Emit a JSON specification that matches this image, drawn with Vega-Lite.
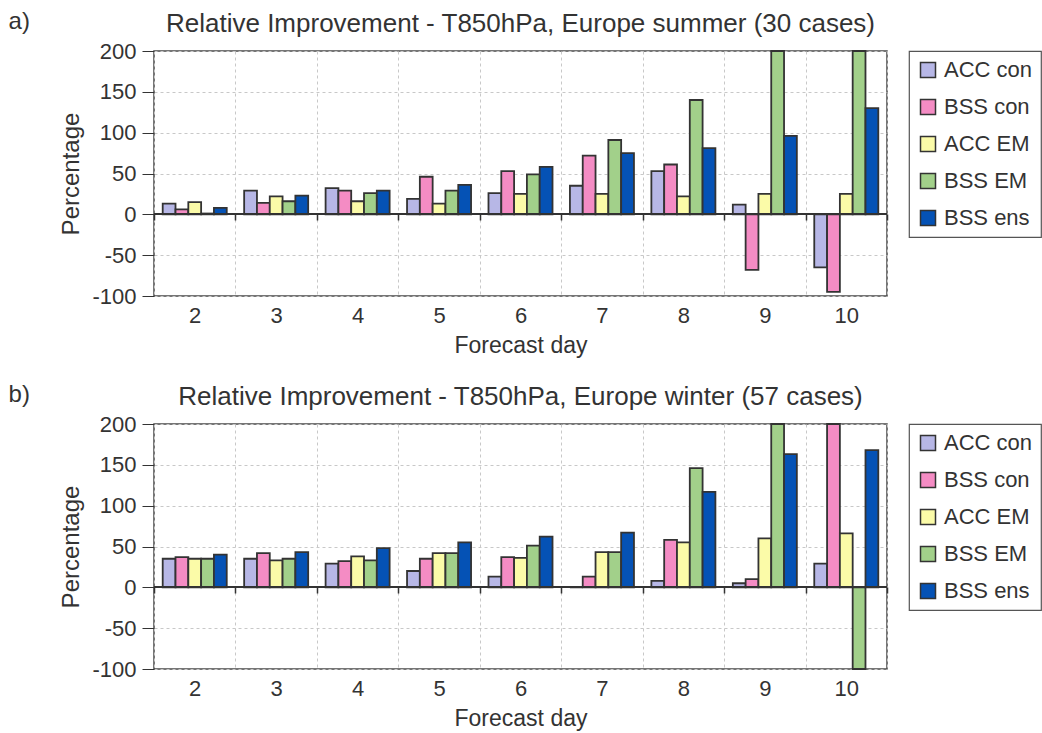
{
  "$schema": "https://vega.github.io/schema/vega-lite/v6.json",
  "background": "white",
  "padding": {"left": 8, "top": 10, "right": 2, "bottom": 0},
  "config": {
    "font": "Liberation Sans",
    "view": {"stroke": "#4a4a4a", "strokeWidth": 1.5},
    "axis": {
      "labelFontSize": 22, "labelColor": "#333", "titleFontSize": 24, "titleFontWeight": "normal", "titleColor": "#333",
      "gridColor": "#c8c8c8", "gridDash": [3, 3], "gridWidth": 1, "tickColor": "#333", "domainColor": "#333"
    },
    "legend": {
      "orient": "right", "offset": 20, "strokeColor": "#555", "strokeWidth": 1.2, "padding": 8,
      "symbolType": "square", "symbolSize": 225, "symbolStrokeColor": "#333", "symbolStrokeWidth": 1.5, "symbolOpacity": 1,
      "labelFontSize": 22, "labelColor": "#333", "rowPadding": 15, "labelOffset": 5
    },
    "title": {"fontWeight": "normal", "color": "#333"}
  },
  "datasets": {
    "summer": [
      {"day": 2, "series": "ACC con", "value": 13}, {"day": 2, "series": "BSS con", "value": 6}, {"day": 2, "series": "ACC EM", "value": 15}, {"day": 2, "series": "BSS EM", "value": 1}, {"day": 2, "series": "BSS ens", "value": 8},
      {"day": 3, "series": "ACC con", "value": 29}, {"day": 3, "series": "BSS con", "value": 14}, {"day": 3, "series": "ACC EM", "value": 22}, {"day": 3, "series": "BSS EM", "value": 16}, {"day": 3, "series": "BSS ens", "value": 23},
      {"day": 4, "series": "ACC con", "value": 32}, {"day": 4, "series": "BSS con", "value": 29}, {"day": 4, "series": "ACC EM", "value": 16}, {"day": 4, "series": "BSS EM", "value": 26}, {"day": 4, "series": "BSS ens", "value": 29},
      {"day": 5, "series": "ACC con", "value": 19}, {"day": 5, "series": "BSS con", "value": 46}, {"day": 5, "series": "ACC EM", "value": 13}, {"day": 5, "series": "BSS EM", "value": 29}, {"day": 5, "series": "BSS ens", "value": 36},
      {"day": 6, "series": "ACC con", "value": 26}, {"day": 6, "series": "BSS con", "value": 53}, {"day": 6, "series": "ACC EM", "value": 25}, {"day": 6, "series": "BSS EM", "value": 49}, {"day": 6, "series": "BSS ens", "value": 58},
      {"day": 7, "series": "ACC con", "value": 35}, {"day": 7, "series": "BSS con", "value": 72}, {"day": 7, "series": "ACC EM", "value": 25}, {"day": 7, "series": "BSS EM", "value": 91}, {"day": 7, "series": "BSS ens", "value": 75},
      {"day": 8, "series": "ACC con", "value": 53}, {"day": 8, "series": "BSS con", "value": 61}, {"day": 8, "series": "ACC EM", "value": 22}, {"day": 8, "series": "BSS EM", "value": 140}, {"day": 8, "series": "BSS ens", "value": 81},
      {"day": 9, "series": "ACC con", "value": 12}, {"day": 9, "series": "BSS con", "value": -68}, {"day": 9, "series": "ACC EM", "value": 25}, {"day": 9, "series": "BSS EM", "value": 200}, {"day": 9, "series": "BSS ens", "value": 96},
      {"day": 10, "series": "ACC con", "value": -65}, {"day": 10, "series": "BSS con", "value": -95}, {"day": 10, "series": "ACC EM", "value": 25}, {"day": 10, "series": "BSS EM", "value": 200}, {"day": 10, "series": "BSS ens", "value": 130}
    ],
    "winter": [
      {"day": 2, "series": "ACC con", "value": 35}, {"day": 2, "series": "BSS con", "value": 37}, {"day": 2, "series": "ACC EM", "value": 35}, {"day": 2, "series": "BSS EM", "value": 35}, {"day": 2, "series": "BSS ens", "value": 40},
      {"day": 3, "series": "ACC con", "value": 35}, {"day": 3, "series": "BSS con", "value": 42}, {"day": 3, "series": "ACC EM", "value": 33}, {"day": 3, "series": "BSS EM", "value": 35}, {"day": 3, "series": "BSS ens", "value": 43},
      {"day": 4, "series": "ACC con", "value": 29}, {"day": 4, "series": "BSS con", "value": 32}, {"day": 4, "series": "ACC EM", "value": 38}, {"day": 4, "series": "BSS EM", "value": 33}, {"day": 4, "series": "BSS ens", "value": 48},
      {"day": 5, "series": "ACC con", "value": 20}, {"day": 5, "series": "BSS con", "value": 35}, {"day": 5, "series": "ACC EM", "value": 42}, {"day": 5, "series": "BSS EM", "value": 42}, {"day": 5, "series": "BSS ens", "value": 55},
      {"day": 6, "series": "ACC con", "value": 13}, {"day": 6, "series": "BSS con", "value": 37}, {"day": 6, "series": "ACC EM", "value": 36}, {"day": 6, "series": "BSS EM", "value": 51}, {"day": 6, "series": "BSS ens", "value": 62},
      {"day": 7, "series": "ACC con", "value": 0}, {"day": 7, "series": "BSS con", "value": 13}, {"day": 7, "series": "ACC EM", "value": 43}, {"day": 7, "series": "BSS EM", "value": 43}, {"day": 7, "series": "BSS ens", "value": 67},
      {"day": 8, "series": "ACC con", "value": 8}, {"day": 8, "series": "BSS con", "value": 58}, {"day": 8, "series": "ACC EM", "value": 55}, {"day": 8, "series": "BSS EM", "value": 146}, {"day": 8, "series": "BSS ens", "value": 117},
      {"day": 9, "series": "ACC con", "value": 5}, {"day": 9, "series": "BSS con", "value": 10}, {"day": 9, "series": "ACC EM", "value": 60}, {"day": 9, "series": "BSS EM", "value": 200}, {"day": 9, "series": "BSS ens", "value": 163},
      {"day": 10, "series": "ACC con", "value": 29}, {"day": 10, "series": "BSS con", "value": 200}, {"day": 10, "series": "ACC EM", "value": 66}, {"day": 10, "series": "BSS EM", "value": -100}, {"day": 10, "series": "BSS ens", "value": 168}
    ]
  },
  "spacing": 25,
  "resolve": {"scale": {"color": "independent"}, "legend": {"color": "independent"}},
  "vconcat": [
    {
      "title": {"text": "a)", "orient": "left", "angle": 0, "anchor": "end", "baseline": "top", "align": "right", "fontSize": 24, "offset": 8},
      "vconcat": [
        {
          "width": 733, "height": 245,
          "title": {"text": "Relative Improvement - T850hPa, Europe summer (30 cases)", "frame": "group", "anchor": "middle", "fontSize": 26, "offset": 3},
          "data": {"name": "summer"},
          "layer": [
            {
              "mark": {"type": "bar", "stroke": "#333", "strokeWidth": 1.8},
              "encoding": {
                "x": {"field": "day", "type": "ordinal", "title": "Forecast day",
                      "scale": {"paddingInner": 0, "paddingOuter": 0},
                      "axis": {"labelAngle": 0, "grid": true, "tickBand": "extent", "ticks": false, "domain": false, "labelPadding": 9, "titlePadding": 8, "titleFontSize": 23}},
                "xOffset": {"field": "series", "sort": ["ACC con", "BSS con", "ACC EM", "BSS EM", "BSS ens"], "scale": {"paddingInner": 0, "paddingOuter": 0.68}},
                "y": {"field": "value", "type": "quantitative", "title": "Percentage",
                      "scale": {"domain": [-100, 200], "nice": false, "zero": false},
                      "axis": {"values": [-100, -50, 0, 50, 100, 150, 200], "labelExpr": "'' + datum.value", "tickSize": 12, "labelPadding": 6, "titlePadding": 8, "domain": false, "grid": true}},
                "color": {"field": "series", "type": "nominal", "sort": ["ACC con", "BSS con", "ACC EM", "BSS EM", "BSS ens"],
                          "scale": {"domain": ["ACC con", "BSS con", "ACC EM", "BSS EM", "BSS ens"], "range": ["#b7b7e6", "#f48cc4", "#fbfba8", "#a2d08a", "#0552b5"]},
                          "legend": {"title": null}}
              }
            },
            {"mark": {"type": "rule", "color": "#333", "strokeWidth": 1.5}, "encoding": {"y": {"datum": 0}}},
            {
              "mark": {"type": "tick", "opacity": 0},
              "encoding": {
                "x": {"field": "day", "type": "ordinal", "axis": {"orient": "bottom", "offset": -82, "labels": false, "title": null, "domain": false, "grid": false, "ticks": true, "tickBand": "extent", "tickSize": 6, "tickWidth": 1.5}},
                "y": {"datum": 0}
              }
            }
          ],
          "resolve": {"axis": {"x": "independent"}}
        }
      ]
    },
    {
      "title": {"text": "b)", "orient": "left", "angle": 0, "anchor": "end", "baseline": "top", "align": "right", "fontSize": 24, "offset": 8},
      "vconcat": [
        {
          "width": 733, "height": 245,
          "title": {"text": "Relative Improvement - T850hPa, Europe winter (57 cases)", "frame": "group", "anchor": "middle", "fontSize": 26, "offset": 3},
          "data": {"name": "winter"},
          "layer": [
            {
              "mark": {"type": "bar", "stroke": "#333", "strokeWidth": 1.8},
              "encoding": {
                "x": {"field": "day", "type": "ordinal", "title": "Forecast day",
                      "scale": {"paddingInner": 0, "paddingOuter": 0},
                      "axis": {"labelAngle": 0, "grid": true, "tickBand": "extent", "ticks": false, "domain": false, "labelPadding": 9, "titlePadding": 8, "titleFontSize": 23}},
                "xOffset": {"field": "series", "sort": ["ACC con", "BSS con", "ACC EM", "BSS EM", "BSS ens"], "scale": {"paddingInner": 0, "paddingOuter": 0.68}},
                "y": {"field": "value", "type": "quantitative", "title": "Percentage",
                      "scale": {"domain": [-100, 200], "nice": false, "zero": false},
                      "axis": {"values": [-100, -50, 0, 50, 100, 150, 200], "labelExpr": "'' + datum.value", "tickSize": 12, "labelPadding": 6, "titlePadding": 8, "domain": false, "grid": true}},
                "color": {"field": "series", "type": "nominal", "sort": ["ACC con", "BSS con", "ACC EM", "BSS EM", "BSS ens"],
                          "scale": {"domain": ["ACC con", "BSS con", "ACC EM", "BSS EM", "BSS ens"], "range": ["#b7b7e6", "#f48cc4", "#fbfba8", "#a2d08a", "#0552b5"]},
                          "legend": {"title": null}}
              }
            },
            {"mark": {"type": "rule", "color": "#333", "strokeWidth": 1.5}, "encoding": {"y": {"datum": 0}}},
            {
              "mark": {"type": "tick", "opacity": 0},
              "encoding": {
                "x": {"field": "day", "type": "ordinal", "axis": {"orient": "bottom", "offset": -82, "labels": false, "title": null, "domain": false, "grid": false, "ticks": true, "tickBand": "extent", "tickSize": 6, "tickWidth": 1.5}},
                "y": {"datum": 0}
              }
            }
          ],
          "resolve": {"axis": {"x": "independent"}}
        }
      ]
    }
  ]
}
